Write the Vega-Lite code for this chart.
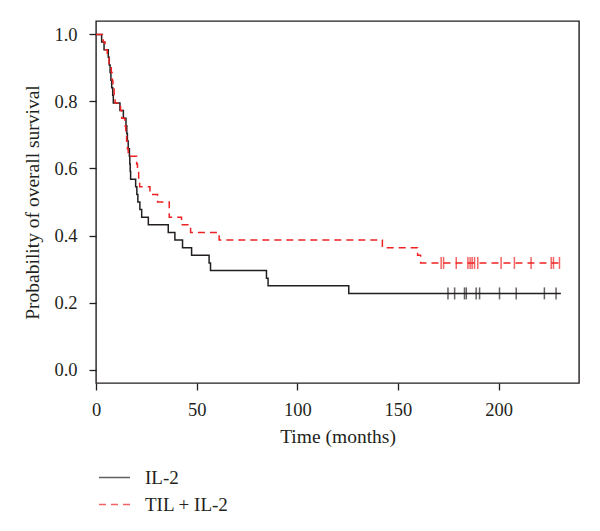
{
  "$schema": "https://vega.github.io/schema/vega-lite/v6.json",
  "width": 483,
  "height": 362,
  "autosize": {"type": "none"},
  "padding": {"left": 96, "top": 21, "right": 21, "bottom": 148},
  "background": "white",
  "config": {
    "view": {"stroke": "#231f20", "strokeWidth": 1.4},
    "font": "Liberation Serif",
    "axis": {
      "labelFont": "Liberation Serif",
      "titleFont": "Liberation Serif",
      "labelFontSize": 18.5,
      "titleFontSize": 19.5,
      "titleFontWeight": "normal",
      "labelColor": "#231f20",
      "titleColor": "#231f20",
      "tickColor": "#231f20",
      "tickWidth": 1.3,
      "tickSize": 7,
      "domain": false,
      "grid": false
    },
    "legend": {
      "labelFont": "Liberation Serif",
      "labelFontSize": 19,
      "labelColor": "#231f20"
    }
  },
  "datasets": {
    "curves": [
      {"group": "IL-2", "time": 0, "surv": 1.0},
      {"group": "IL-2", "time": 2.8, "surv": 0.9773},
      {"group": "IL-2", "time": 4.0, "surv": 0.9545},
      {"group": "IL-2", "time": 6.1, "surv": 0.9318},
      {"group": "IL-2", "time": 6.6, "surv": 0.9091},
      {"group": "IL-2", "time": 7.0, "surv": 0.8864},
      {"group": "IL-2", "time": 7.4, "surv": 0.8636},
      {"group": "IL-2", "time": 7.8, "surv": 0.8409},
      {"group": "IL-2", "time": 8.3, "surv": 0.8182},
      {"group": "IL-2", "time": 8.6, "surv": 0.7955},
      {"group": "IL-2", "time": 11.9, "surv": 0.7727},
      {"group": "IL-2", "time": 13.6, "surv": 0.75},
      {"group": "IL-2", "time": 14.9, "surv": 0.7273},
      {"group": "IL-2", "time": 15.3, "surv": 0.7045},
      {"group": "IL-2", "time": 15.6, "surv": 0.6818},
      {"group": "IL-2", "time": 16.0, "surv": 0.6591},
      {"group": "IL-2", "time": 16.6, "surv": 0.6364},
      {"group": "IL-2", "time": 16.8, "surv": 0.6136},
      {"group": "IL-2", "time": 17.0, "surv": 0.5909},
      {"group": "IL-2", "time": 17.2, "surv": 0.5682},
      {"group": "IL-2", "time": 19.7, "surv": 0.5455},
      {"group": "IL-2", "time": 20.3, "surv": 0.5227},
      {"group": "IL-2", "time": 20.8, "surv": 0.5},
      {"group": "IL-2", "time": 21.8, "surv": 0.4773},
      {"group": "IL-2", "time": 22.7, "surv": 0.4545},
      {"group": "IL-2", "time": 26.0, "surv": 0.4318},
      {"group": "IL-2", "time": 35.9, "surv": 0.4091},
      {"group": "IL-2", "time": 39.2, "surv": 0.3864},
      {"group": "IL-2", "time": 43.0, "surv": 0.3636},
      {"group": "IL-2", "time": 47.5, "surv": 0.3409},
      {"group": "IL-2", "time": 56.2, "surv": 0.3182},
      {"group": "IL-2", "time": 56.9, "surv": 0.2955},
      {"group": "IL-2", "time": 84.7, "surv": 0.2727},
      {"group": "IL-2", "time": 85.5, "surv": 0.25},
      {"group": "IL-2", "time": 125.6, "surv": 0.2273},
      {"group": "IL-2", "time": 231, "surv": 0.2273},
      {"group": "TIL + IL-2", "time": 0, "surv": 1.0},
      {"group": "TIL + IL-2", "time": 3.6, "surv": 0.9773},
      {"group": "TIL + IL-2", "time": 4.5, "surv": 0.9545},
      {"group": "TIL + IL-2", "time": 5.6, "surv": 0.9318},
      {"group": "TIL + IL-2", "time": 6.5, "surv": 0.9091},
      {"group": "TIL + IL-2", "time": 7.6, "surv": 0.8864},
      {"group": "TIL + IL-2", "time": 8.0, "surv": 0.8636},
      {"group": "TIL + IL-2", "time": 8.4, "surv": 0.8409},
      {"group": "TIL + IL-2", "time": 9.0, "surv": 0.8182},
      {"group": "TIL + IL-2", "time": 9.5, "surv": 0.7955},
      {"group": "TIL + IL-2", "time": 12.2, "surv": 0.7727},
      {"group": "TIL + IL-2", "time": 12.8, "surv": 0.75},
      {"group": "TIL + IL-2", "time": 14.3, "surv": 0.7273},
      {"group": "TIL + IL-2", "time": 14.8, "surv": 0.7045},
      {"group": "TIL + IL-2", "time": 15.2, "surv": 0.6818},
      {"group": "TIL + IL-2", "time": 15.6, "surv": 0.6591},
      {"group": "TIL + IL-2", "time": 16.0, "surv": 0.6364},
      {"group": "TIL + IL-2", "time": 20.2, "surv": 0.6136},
      {"group": "TIL + IL-2", "time": 20.6, "surv": 0.5909},
      {"group": "TIL + IL-2", "time": 21.2, "surv": 0.5682},
      {"group": "TIL + IL-2", "time": 21.7, "surv": 0.5455},
      {"group": "TIL + IL-2", "time": 26.8, "surv": 0.5227},
      {"group": "TIL + IL-2", "time": 30.6, "surv": 0.5},
      {"group": "TIL + IL-2", "time": 36.4, "surv": 0.4545},
      {"group": "TIL + IL-2", "time": 42.5, "surv": 0.4318},
      {"group": "TIL + IL-2", "time": 47.0, "surv": 0.4091},
      {"group": "TIL + IL-2", "time": 61.2, "surv": 0.3864},
      {"group": "TIL + IL-2", "time": 142.3, "surv": 0.3636},
      {"group": "TIL + IL-2", "time": 159.8, "surv": 0.3409},
      {"group": "TIL + IL-2", "time": 161.3, "surv": 0.3182},
      {"group": "TIL + IL-2", "time": 232, "surv": 0.3182}
    ],
    "censored": [
      {"group": "IL-2", "time": 174.9, "surv": 0.2273},
      {"group": "IL-2", "time": 178.2, "surv": 0.2273},
      {"group": "IL-2", "time": 183.1, "surv": 0.2273},
      {"group": "IL-2", "time": 184.0, "surv": 0.2273},
      {"group": "IL-2", "time": 188.9, "surv": 0.2273},
      {"group": "IL-2", "time": 190.6, "surv": 0.2273},
      {"group": "IL-2", "time": 200.5, "surv": 0.2273},
      {"group": "IL-2", "time": 208.8, "surv": 0.2273},
      {"group": "IL-2", "time": 222.8, "surv": 0.2273},
      {"group": "IL-2", "time": 228.6, "surv": 0.2273},
      {"group": "TIL + IL-2", "time": 171.5, "surv": 0.3182},
      {"group": "TIL + IL-2", "time": 172.7, "surv": 0.3182},
      {"group": "TIL + IL-2", "time": 179.0, "surv": 0.3182},
      {"group": "TIL + IL-2", "time": 184.8, "surv": 0.3182},
      {"group": "TIL + IL-2", "time": 185.9, "surv": 0.3182},
      {"group": "TIL + IL-2", "time": 186.9, "surv": 0.3182},
      {"group": "TIL + IL-2", "time": 188.1, "surv": 0.3182},
      {"group": "TIL + IL-2", "time": 189.7, "surv": 0.3182},
      {"group": "TIL + IL-2", "time": 201.3, "surv": 0.3182},
      {"group": "TIL + IL-2", "time": 207.9, "surv": 0.3182},
      {"group": "TIL + IL-2", "time": 216.2, "surv": 0.3182},
      {"group": "TIL + IL-2", "time": 226.2, "surv": 0.3182},
      {"group": "TIL + IL-2", "time": 227.3, "surv": 0.3182},
      {"group": "TIL + IL-2", "time": 230.3, "surv": 0.3182}
    ]
  },
  "encoding": {
    "x": {
      "field": "time",
      "type": "quantitative",
      "scale": {"domain": [0, 240], "nice": false, "zero": false},
      "axis": {"values": [0, 50, 100, 150, 200], "title": "Time (months)", "labelPadding": 10, "titlePadding": 9, "labelFlush": false}
    },
    "y": {
      "field": "surv",
      "type": "quantitative",
      "scale": {"domain": [-0.04, 1.04], "nice": false, "zero": false},
      "axis": {"values": [0, 0.2, 0.4, 0.6, 0.8, 1.0], "format": ".1f", "title": "Probability of overall survival", "labelPadding": 12, "titlePadding": 11}
    },
    "color": {
      "field": "group",
      "type": "nominal",
      "scale": {"domain": ["IL-2", "TIL + IL-2"], "range": ["#231f20", "#ee2222"]},
      "legend": {
        "title": null,
        "orient": "none",
        "legendX": 2,
        "legendY": 440,
        "direction": "vertical",
        "symbolType": "stroke",
        "symbolSize": 961,
        "symbolStrokeWidth": 1.5,
        "labelOffset": 14,
        "rowPadding": -6,
        "padding": 0
      }
    }
  },
  "layer": [
    {
      "data": {"name": "curves"},
      "mark": {"type": "line", "interpolate": "step-after", "strokeWidth": 1.5},
      "encoding": {
        "strokeDash": {
          "field": "group",
          "type": "nominal",
          "scale": {"domain": ["IL-2", "TIL + IL-2"], "range": [[1, 0], [7, 5]]},
          "legend": {
            "title": null,
            "orient": "none",
            "legendX": 2,
            "legendY": 440,
            "direction": "vertical",
            "symbolType": "stroke",
            "symbolSize": 961,
            "symbolStrokeWidth": 1.5,
            "labelOffset": 14,
            "rowPadding": -6,
            "padding": 0
          }
        }
      }
    },
    {
      "data": {"name": "censored"},
      "mark": {"type": "tick", "orient": "vertical", "size": 12, "thickness": 1.5}
    }
  ]
}
